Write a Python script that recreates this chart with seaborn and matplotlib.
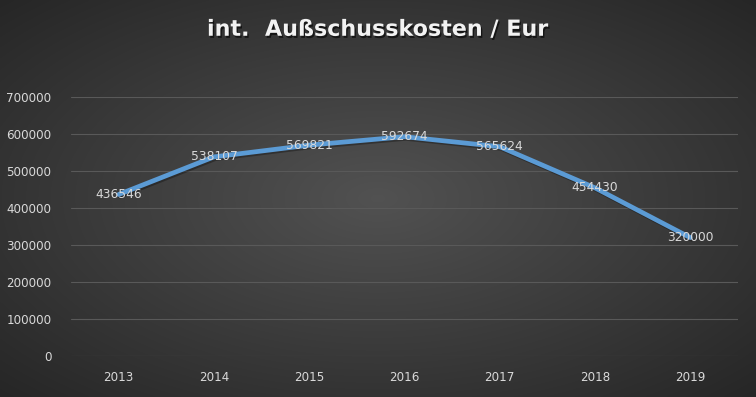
import matplotlib
matplotlib.use("Agg")
import matplotlib.pyplot as plt
import matplotlib.patheffects as pe
import seaborn as sns
import numpy as np
import pandas as pd

# data
years = ["2013", "2014", "2015", "2016", "2017", "2018", "2019"]
costs = [436546, 538107, 569821, 592674, 565624, 454430, 320000]
title = "int.  Außschusskosten / Eur"

sns.set_theme(style="dark")
plt.rcParams['font.family'] = ['DejaVu Sans']

txt_col = '#d9d9d9'
line_col = '#5b9bd5'

fig = plt.figure(figsize=(7.56, 3.97), dpi=100)

# radial gradient background
bg = fig.add_axes([0, 0, 1, 1])
gx, gy = np.meshgrid(np.linspace(-1, 1, 400), np.linspace(-1, 1, 220))
r = np.sqrt(gx ** 2 + gy ** 2) / np.sqrt(2)
shade = 0.32 - 0.17 * r
bg.imshow(np.dstack([shade, shade, shade]), aspect='auto', extent=[0, 1, 0, 1],
          interpolation='bilinear')
bg.set_axis_off()

ax = fig.add_axes([0.094, 0.1033, 0.882, 0.6524])
ax.patch.set_alpha(0)
df = pd.DataFrame({"year": years, "cost": costs})
sns.lineplot(data=df, x="year", y="cost", ax=ax, color=line_col, linewidth=3.4,
             sort=False,
             path_effects=[pe.SimpleLineShadow(offset=(1.0, -1.2), alpha=0.3, shadow_color='black'),
                           pe.Normal()])
for i, v in enumerate(costs):
    ax.text(i, v, str(v), ha='center', va='center', color=txt_col, fontsize=8.8, zorder=5)

ax.set_xlim(-0.5, len(years) - 0.5)
ax.set_ylim(0, 700000)
ax.set_yticks(np.arange(0, 700001, 100000))
ax.yaxis.grid(True, color='#595959', linewidth=0.8)
ax.xaxis.grid(False)
ax.set_xlabel("")
ax.set_ylabel("")
ax.tick_params(axis='both', colors=txt_col, labelsize=8.6, length=0)
ax.tick_params(axis='y', pad=14)
ax.tick_params(axis='x', pad=11)
for s in ax.spines.values():
    s.set_visible(False)

fig.text(0.5, 0.925, title, ha='center', va='center', color='#f2f2f2',
         fontsize=16, fontweight='bold',
         path_effects=[pe.withSimplePatchShadow(offset=(1, -1.5), alpha=0.6, shadow_rgbFace='black')])

fig.savefig("out.png", dpi=100)
